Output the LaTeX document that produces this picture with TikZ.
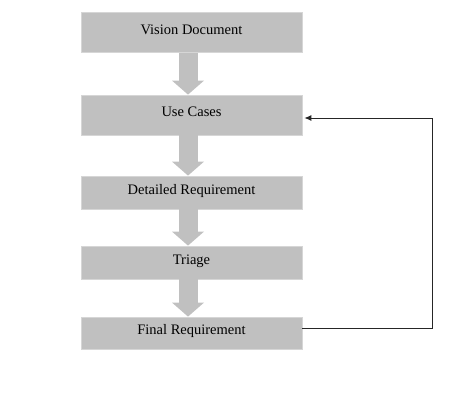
\documentclass[tikz,border=0pt]{standalone}
\usepackage{fontspec}
\setmainfont{Liberation Serif}
\usetikzlibrary{arrows.meta}

\definecolor{boxgray}{RGB}{192,192,192}
\definecolor{boxedge}{RGB}{214,214,214}

\tikzset{
    stage/.style={fill=boxgray, draw=boxedge, line width=0.8pt,
        minimum width=221pt, inner sep=0pt,
        text height=0.68em, text depth=0.3em,
        font=\fontsize{14.5}{16}\selectfont},
    flow/.style={line width=19pt, boxgray,
        -{Triangle[width=32pt,length=14pt,line width=0pt]}},
    loopback/.style={line width=0.9pt, black!85,
        -{Latex[length=7pt,width=6pt]}}
}

\begin{document}
\begin{tikzpicture}[x=1pt,y=-1pt]
        \useasboundingbox (0,0) rectangle (468,406);

        % Process stages
        \node[stage, minimum height=40.5pt] (vision) at (191.5,32.6) {Vision Document};
        \node[stage, minimum height=40pt] (cases) at (191.5,115) {Use Cases};
        \node[stage, minimum height=33pt] (detail) at (191.5,192.5) {Detailed Requirement};
        \node[stage, minimum height=33pt] (triage) at (191.5,262.5) {Triage};
        \node[stage, minimum height=32pt] (final) at (191.5,333) {Final Requirement};

        % Block arrows between stages
        \draw[flow] ([xshift=-3.5pt]vision.south) -- ([xshift=-3.5pt]cases.north);
        \draw[flow] ([xshift=-3.5pt]cases.south) -- ([xshift=-3.5pt]detail.north);
        \draw[flow] ([xshift=-3.5pt]detail.south) -- ([xshift=-3.5pt]triage.north);
        \draw[flow] ([xshift=-3.5pt]triage.south) -- ([xshift=-3.5pt]final.north);

        % Feedback from final requirement to use cases
        \draw[loopback] ([yshift=5pt]final.east) -- ++(130.5,0)
            |- ([xshift=2pt,yshift=-3pt]cases.east);
    \end{tikzpicture}
\end{document}
